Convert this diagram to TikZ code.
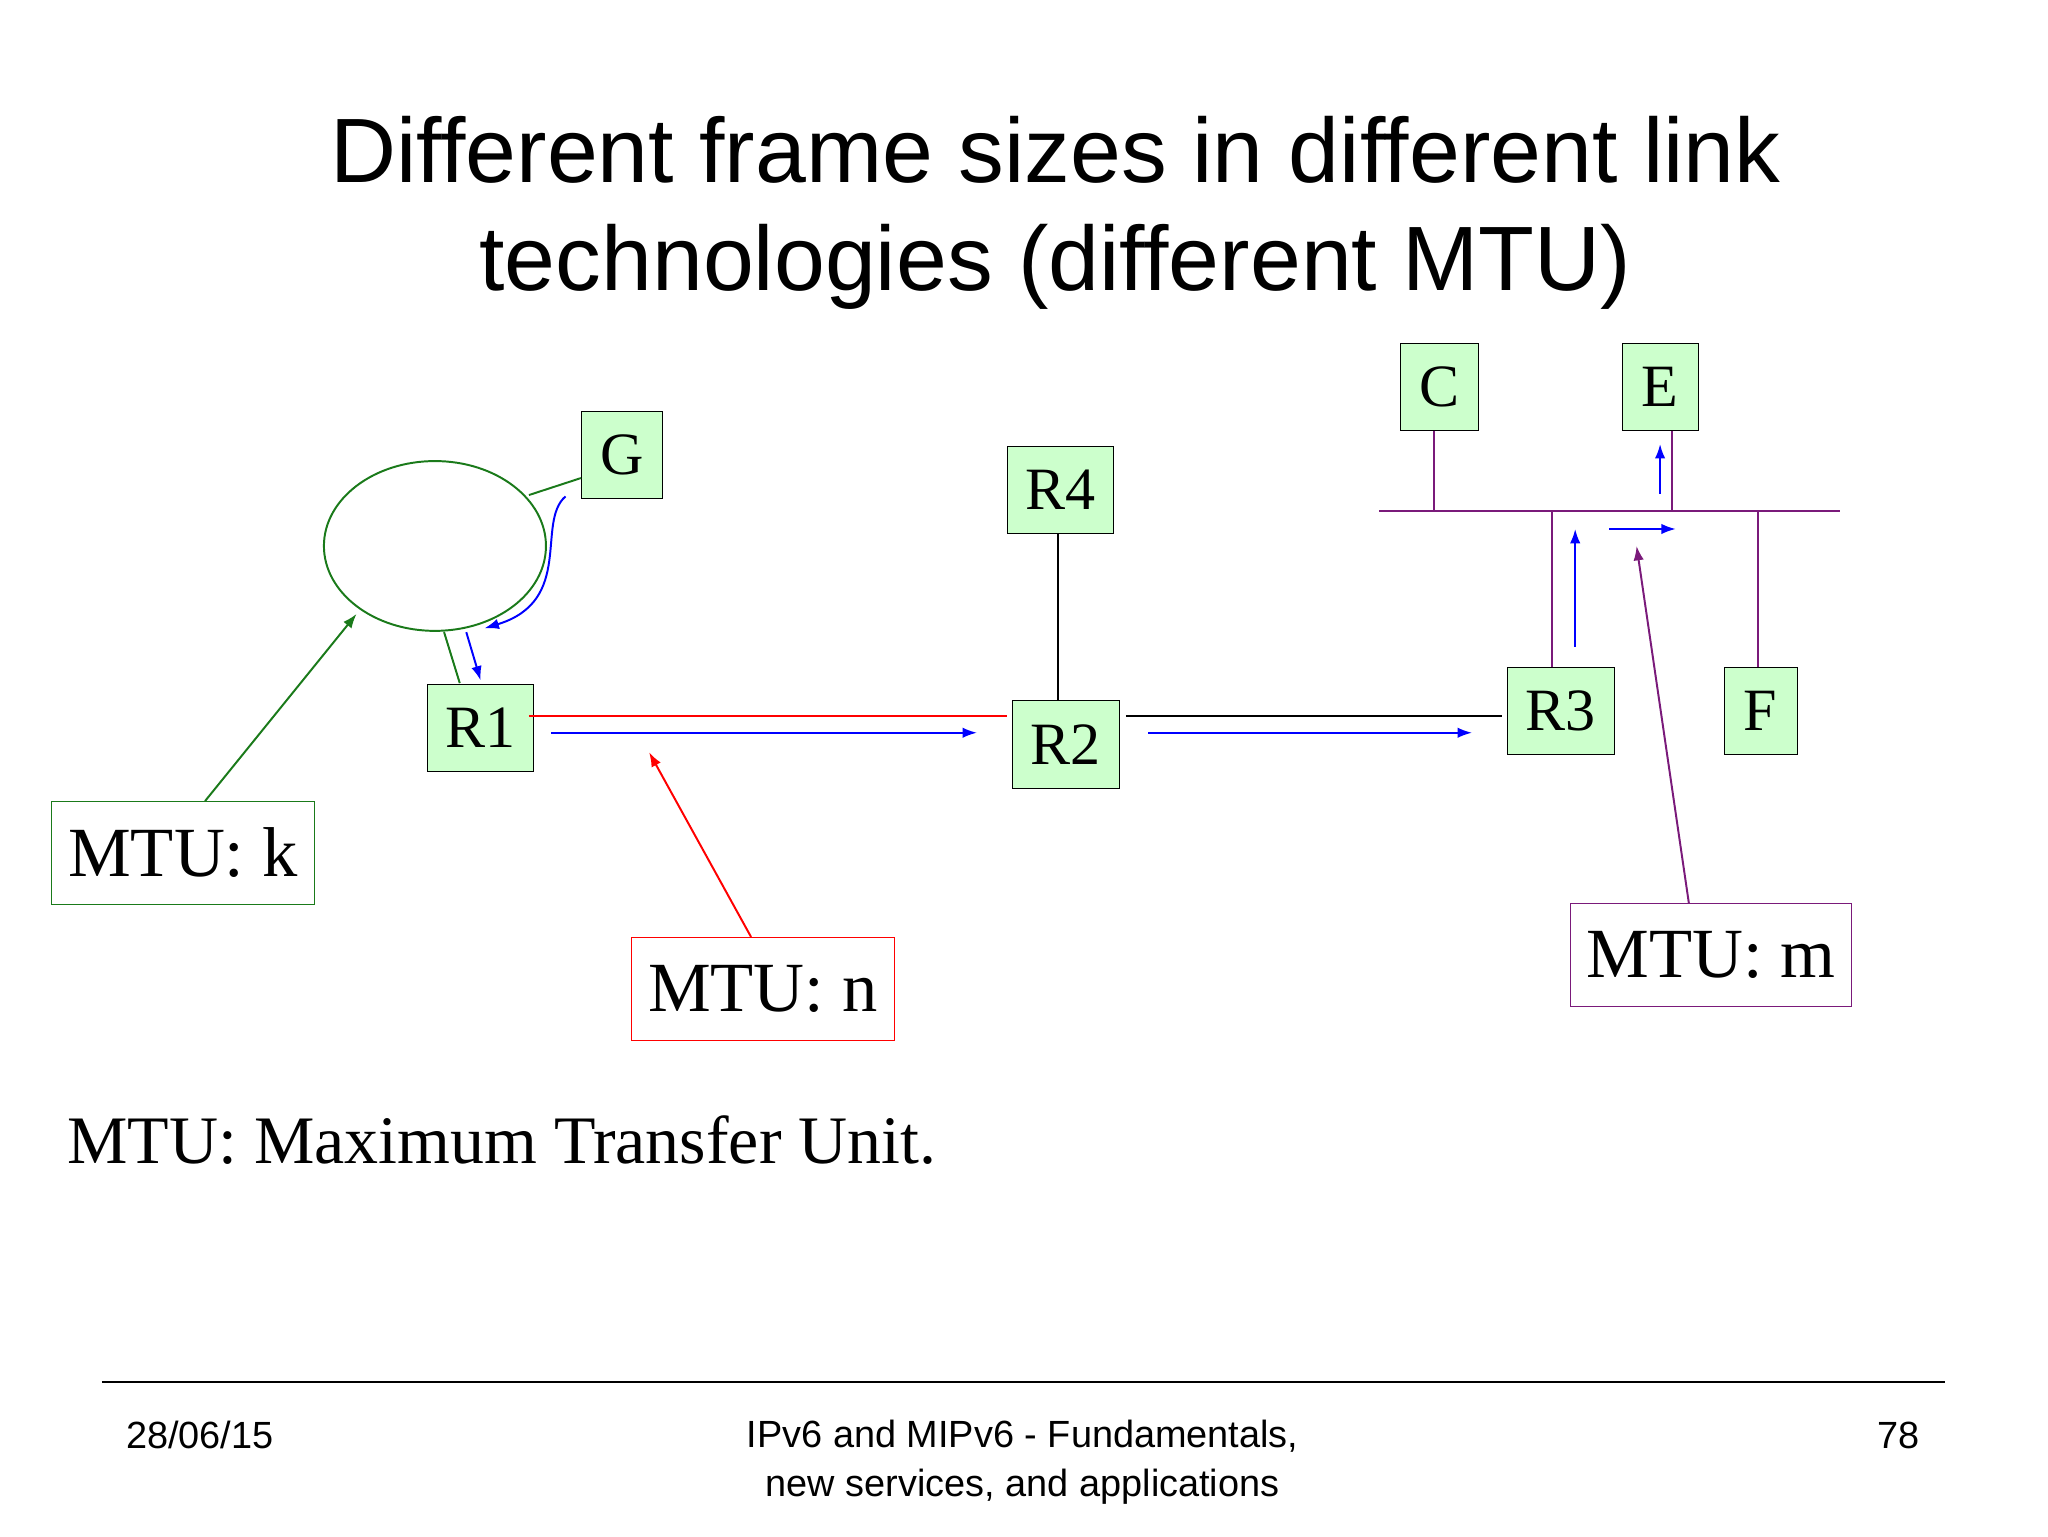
\documentclass[tikz,border=0pt]{standalone}
\usepackage{fontspec}
\setmainfont{Liberation Serif}
\newfontfamily\arial{Liberation Sans}
\usetikzlibrary{arrows.meta,shapes.geometric}
\definecolor{boxg}{HTML}{CCFFCC}
\definecolor{dgreen}{HTML}{1A7A1A}
\definecolor{purp}{HTML}{7A1A7A}
\begin{document}
\begin{tikzpicture}[x=1pt,y=-1pt,
  nd/.style={draw=black,fill=boxg,minimum height=67pt,inner sep=0pt,font=\fontsize{46}{50}\selectfont},
  mtu/.style={draw,fill=white,minimum height=79pt,inner sep=0pt,font=\fontsize{54}{58}\selectfont},
  arr/.style={-{Latex[length=11pt,width=8pt]},line width=1.5pt},
  ln/.style={line width=1.5pt}]
\useasboundingbox (0,0) rectangle (1568,1176);
\node[font=\arial\fontsize{70}{83}\selectfont,align=center] (title) at (808,163) {Different frame sizes in different link\\technologies (different MTU)};
\node[nd,minimum width=62pt] (G) at (476,348) {G};
\node[nd,minimum width=81pt] (R4) at (812,375) {R4};
\node[nd,minimum width=60pt] (C) at (1102,296) {C};
\node[nd,minimum width=58pt] (E) at (1271,296) {E};
\node[nd,minimum width=81pt] (R1) at (368,557) {R1};
\node[nd,minimum width=82pt] (R2) at (816,570) {R2};
\node[nd,minimum width=82pt] (R3) at (1195,544) {R3};
\node[nd,minimum width=56pt] (F) at (1348,544) {F};
\node[draw=dgreen,ln,ellipse,minimum width=170pt,minimum height=130pt] (net) at (333,418) {};
\node[mtu,draw=dgreen,minimum width=201pt] (mk) at (140,653) {MTU: k};
\node[mtu,draw=red,minimum width=201pt] (mn) at (584,757) {MTU: n};
\node[mtu,draw=purp,minimum width=215pt] (mm) at (1310,731) {MTU: m};
\node[anchor=west,font=\fontsize{52}{56}\selectfont] (def) at (48,873) {MTU: Maximum Transfer Unit.};
% bus
\coordinate (bl) at (1056,391); \coordinate (br) at (1409,391);
\draw[purp,ln] (bl) -- (br);
\draw[purp,ln] (C.south -| 1098,0) -- (1098,391);
\draw[purp,ln] (E.south -| 1280,0) -- (1280,391);
\draw[purp,ln] (1188,391) -- (R3.north -| 1188,0);
\draw[purp,ln] (1346,391) -- (F.north -| 1346,0);
\draw[ln] (R4.south -| 810,0) -- (R2.north -| 810,0);
\draw[red,ln] (405,548) -- (771,548);
\draw[ln] (862,548) -- (1150,548);
\draw[dgreen,ln] (G.west |- 0,366) -- (405,379);
\draw[dgreen,ln] (340,484) -- (352,523);
% blue arrows
\draw[blue,arr] (422,561) -- (748,561);
\draw[blue,arr] (879,561) -- (1127,561);
\draw[blue,arr] (1206,495) -- (1206,405);
\draw[blue,arr] (1232,405) -- (1283,405);
\draw[blue,arr] (1271,378) -- (1271,340);
\draw[blue,arr] (433,380) .. controls (410,400) and (440,460) .. (371,481);
\draw[blue,arr] (357,484) -- (368,521);
% label arrows
\draw[dgreen,arr] (mk.north -| 157,0) -- (273,470);
\draw[red,arr] (mn.north -| 575,0) -- (497,576);
\draw[purp,arr] (mm.north -| 1293,0) -- (1253,418);
% footer
\draw[line width=1.5pt] (78,1058) -- (1489,1058);
\node[anchor=base west,font=\arial\fontsize{29}{36}\selectfont] (date) at (93,1109) {28/06/15};
\node[anchor=north,align=center,font=\arial\fontsize{29}{37}\selectfont] (foot) at (783,1084) {IPv6 and MIPv6 - Fundamentals,\\new services, and applications};
\node[anchor=base east,font=\arial\fontsize{29}{36}\selectfont] (pg) at (1473,1109) {78};
\end{tikzpicture}
\end{document}
